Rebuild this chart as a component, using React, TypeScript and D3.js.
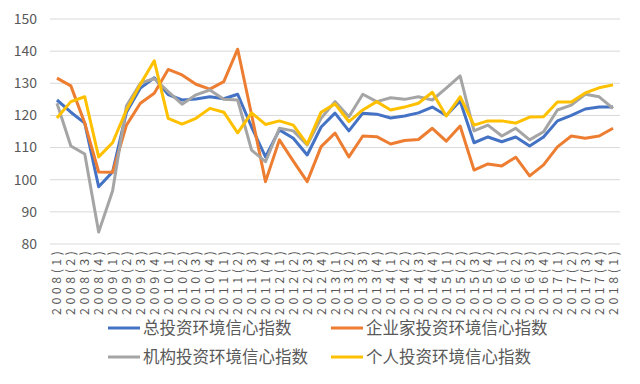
import { useEffect, useRef } from 'react';
import * as d3 from 'd3';

// quarters 2008(1) .. 2018(1)
const years = d3.range(2008, 2019);
const quarters: string[] = [];
years.forEach((y) => {
  [1, 2, 3, 4].forEach((q) => {
    if (y < 2018 || q === 1) quarters.push(`${y}(${q})`);
  });
});

const totalIdx = [
  124.8, 121, 117.6, 97.8, 102.4, 121, 128.5, 131.7, 126.5, 124.8, 125.1, 125.8,
  125.2, 126.6, 116.4, 107.1, 115.5, 112.9, 107.7, 116.4, 120.7, 115.2, 120.7, 120.4,
  119.2, 119.8, 120.8, 122.6, 120, 124.5, 111.5, 113.3, 111.8, 113.3, 110.5, 113.3,
  118.3, 120, 122, 122.6, 122.6,
];
const entrepreneurIdx = [
  131.6, 129.2, 117.6, 102.4, 102.3, 117, 123.8, 126.9, 134.3, 132.6, 129.7, 128.2,
  130.5, 140.6, 120.2, 99.4, 112.4, 105.8, 99.4, 110.3, 114.5, 107.1, 113.6, 113.4,
  111.1, 112.2, 112.5, 116, 112, 116.7, 103, 104.9, 104.3, 107, 101.2, 104.6,
  110.2, 113.6, 112.9, 113.6, 116,
];
const institutionIdx = [
  123.8, 110.5, 108, 83.7, 96.5, 123, 130, 131.5, 127.4, 123.5, 126.4, 127.9,
  125, 124.8, 109.2, 105.6, 116, 115.2, 110.8, 119.1, 124.3, 119.6, 126.6, 124.3,
  125.5, 125, 125.8, 124.8, 128.5, 132.3, 115.2, 117, 113.6, 116, 112.4, 114.9,
  121.7, 123.2, 126.6, 125.8, 122.2,
];
const personalIdx = [
  119.2, 124.3, 125.8, 107.1, 111.5, 121.7, 129.7, 137, 119.1, 117.3, 119.1, 122.2,
  121, 114.6, 120.8, 117.2, 118.3, 117, 111.1, 121, 123.6, 118.1, 121.7, 124.3,
  121.7, 122.6, 123.8, 127.2, 119.8, 125.8, 117, 118.3, 118.3, 117.6, 119.5, 119.6,
  124.2, 124.2, 127, 128.6, 129.5,
];

const seriesNames = ['总投资环境信心指数', '企业家投资环境信心指数', '机构投资环境信心指数', '个人投资环境信心指数'];
const seriesValues = [totalIdx, entrepreneurIdx, institutionIdx, personalIdx];
const colors = ['#4472C4', '#ED7D31', '#A5A5A5', '#FFC000'];
const yTicks = [80, 90, 100, 110, 120, 130, 140, 150];

const W = 640;
const H = 384;
const plot = { left: 50, right: 620, top: 19, bottom: 244 };
const font = "'Noto Sans CJK SC', 'Noto Sans', sans-serif";

export default function App() {
  const ref = useRef<SVGSVGElement>(null);

  useEffect(() => {
    const svg = d3.select(ref.current);
    svg.selectAll('*').remove();

    const x = d3.scaleBand().domain(quarters).range([plot.left, plot.right]);
    const y = d3.scaleLinear().domain([80, 150]).range([plot.bottom, plot.top]);
    const cx = (d: string) => (x(d) ?? 0) + x.bandwidth() / 2;

    // grid lines
    svg.append('g')
      .selectAll('line')
      .data(yTicks)
      .join('line')
      .attr('x1', plot.left)
      .attr('x2', plot.right)
      .attr('y1', (d) => y(d))
      .attr('y2', (d) => y(d))
      .attr('stroke', '#d9d9d9')
      .attr('stroke-width', 1);

    // y labels
    svg.append('g')
      .selectAll('text')
      .data(yTicks)
      .join('text')
      .attr('x', 37)
      .attr('y', (d) => y(d))
      .attr('dy', '0.35em')
      .attr('text-anchor', 'end')
      .attr('font-family', font)
      .attr('font-size', 14)
      .attr('fill', '#595959')
      .text((d) => d);

    // x labels, rotated
    svg.append('g')
      .selectAll('text')
      .data(quarters)
      .join('text')
      .attr('transform', (d) => `translate(${cx(d) + 4.5},251) rotate(-90)`)
      .attr('text-anchor', 'end')
      .attr('font-family', font)
      .attr('font-size', 12.5)
      .attr('fill', '#595959')
      .attr('textLength', 64)
      .attr('lengthAdjust', 'spacing')
      .text((d) => d);

    const line = d3
      .line<number>()
      .x((_, i) => cx(quarters[i]))
      .y((d) => y(d));

    svg.append('g')
      .selectAll('path')
      .data(seriesValues)
      .join('path')
      .attr('fill', 'none')
      .attr('stroke', (_, i) => colors[i])
      .attr('stroke-width', 3)
      .attr('stroke-linejoin', 'round')
      .attr('d', (d) => line(d));

    // legend
    const legendPos = [
      [108, 328],
      [331, 328],
      [108, 357],
      [331, 357],
    ];
    const lg = svg.append('g')
      .selectAll('g')
      .data(seriesNames)
      .join('g')
      .attr('transform', (_, i) => `translate(${legendPos[i][0]},${legendPos[i][1]})`);
    lg.append('line')
      .attr('x1', 0)
      .attr('x2', 32)
      .attr('stroke', (_, i) => colors[i])
      .attr('stroke-width', 3);
    lg.append('text')
      .attr('x', 35)
      .attr('dy', '0.35em')
      .attr('font-family', font)
      .attr('font-size', 16.5)
      .attr('fill', '#595959')
      .text((d) => d);
  }, []);

  return (
    <svg
      ref={ref}
      width={W}
      height={H}
      viewBox={`0 0 ${W} ${H}`}
      style={{ position: 'absolute', left: 0, top: 0, background: '#fff' }}
    />
  );
}
